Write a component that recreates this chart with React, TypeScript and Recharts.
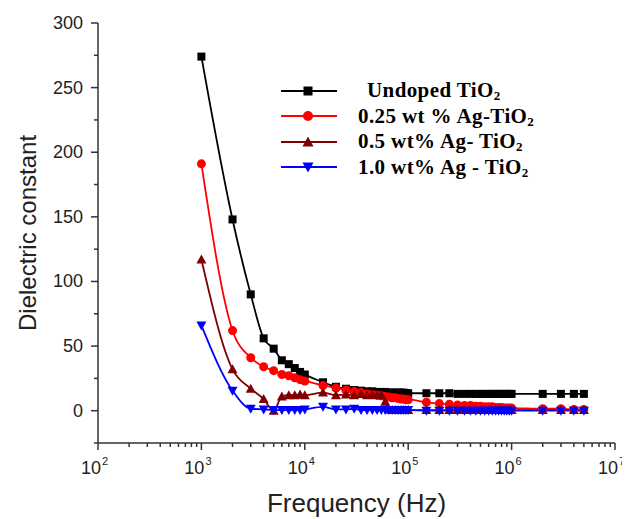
import React from 'react';
import { LineChart, Line, XAxis, YAxis } from 'recharts';

const frequencies = [
  1e3, 2e3, 3e3, 4e3, 5e3, 6e3, 7e3, 8e3, 9e3, 1e4,
  1.5e4, 2e4, 2.5e4, 3e4, 3.5e4, 4e4, 4.5e4, 5e4, 5.5e4, 6e4, 6.5e4, 7e4, 7.5e4, 8e4, 8.5e4, 9e4, 9.5e4, 1e5,
  1.5e5, 2e5, 2.5e5, 3e5, 3.5e5, 4e5, 4.5e5, 5e5, 5.5e5, 6e5, 6.5e5, 7e5, 7.5e5, 8e5, 8.5e5, 9e5, 9.5e5, 1e6,
  2e6, 3e6, 4e6, 5e6,
];

const undoped = [
  274, 148, 90, 56, 48, 39, 36, 33, 30, 28,
  22, 18.5, 17, 16, 15.5, 15, 15, 14.5, 14.5, 14.5, 14, 14, 14, 14, 14, 14, 13.5, 13.5,
  13.5, 13.5, 13.5, 13, 13, 13, 13, 13, 13, 13, 13, 13, 13, 13, 13, 13, 13, 13,
  13, 13, 13, 13,
];

const ag025 = [
  191, 62, 41, 34, 31, 28, 27, 25.5, 24, 23,
  19.5, 17.5, 16, 15, 14, 13, 12.5, 12, 11.5, 11, 10.5, 10, 10, 9.5, 9, 9, 8.5, 8.5,
  6.5, 5.5, 5, 4.5, 4, 4, 3.5, 3.5, 3, 3, 3, 2.5, 2.5, 2.5, 2, 2, 2, 2,
  1.5, 1.5, 1, 1,
];

const ag05 = [
  117, 32, 17, 9, 0, 11, 12, 12, 12.5, 12,
  14, 12, 12.5, 12, 13, 12, 12.5, 12, 12, 7, 1, 0.5, 0.5, 0.5, 0.5, 0.5, 0.5, 0.5,
  0.5, 0.5, 0.5, 0.5, 0.5, 0.5, 0.5, 0.5, 0.5, 0.5, 0.5, 0.5, 0.5, 0.5, 0.5, 0.5, 0.5, 0.5,
  0.5, 0.5, 0.5, 0.5,
];

const ag10 = [
  66, 15.5, 1.5, 1, 0.5, 0.5, 0.5, 0.5, 0.5, 1,
  3, 1, 1, 1.5, 0.5, 0.5, 0.5, 0.5, 0.5, 0.5, 0.5, 0.5, 0.5, 0.5, 0.5, 0.5, 0.5, 0.5,
  0, 0, 0, 0, 0, 0, 0, 0, 0, 0, 0, 0, 0, 0, 0, 0, 0, 0,
  0, 0, 0, 0,
];

const decades = [1e2, 1e3, 1e4, 1e5, 1e6, 1e7];
const minorSteps = [2, 3, 4, 5, 6, 7, 8, 9];
const xTicks = decades.flatMap((d, i) => (i < decades.length - 1 ? [d, ...minorSteps.map((m) => m * d)] : [d]));
const yTicks = [-25, 0, 25, 50, 75, 100, 125, 150, 175, 200, 225, 250, 275, 300];

const series = [
  { key: 'undoped', label: 'Undoped TiO', color: '#000000', shape: 'square', indent: 9 },
  { key: 'ag025', label: '0.25 wt % Ag-TiO', color: '#ff0000', shape: 'circle', indent: 0 },
  { key: 'ag05', label: '0.5 wt% Ag- TiO', color: '#800000', shape: 'up', indent: 0 },
  { key: 'ag10', label: '1.0 wt% Ag - TiO', color: '#0000ff', shape: 'down', indent: 0 },
];

const data = frequencies.map((f, i) => ({
  f,
  undoped: undoped[i],
  ag025: ag025[i],
  ag05: ag05[i],
  ag10: ag10[i],
}));

const axisColor = '#333333';
const sans = '"Liberation Sans", Arial, sans-serif';

function Marker({ cx, cy, shape, color, size = 8 }: any) {
  const h = size / 2;
  if (shape === 'square') return <rect x={cx - h} y={cy - h} width={size} height={size} fill={color} />;
  if (shape === 'circle') return <circle cx={cx} cy={cy} r={h + 0.5} fill={color} />;
  if (shape === 'up')
    return <polygon points={`${cx},${cy - h - 1} ${cx + h + 1},${cy + h} ${cx - h - 1},${cy + h}`} fill={color} />;
  return <polygon points={`${cx - h - 1},${cy - h} ${cx + h + 1},${cy - h} ${cx},${cy + h + 1}`} fill={color} />;
}

function XTick({ x, y, payload }: any) {
  const v = payload.value;
  const lg = Math.log10(v);
  const exp = Math.round(lg);
  const major = Math.abs(lg - exp) < 1e-6;
  return (
    <g>
      <line x1={x} x2={x} y1={y} y2={y + (major ? 7 : 4)} stroke={axisColor} strokeWidth={1.5} />
      {major && (
        <g fill="#222" fontFamily={sans}>
          <text x={x + 3} y={y + 31} textAnchor="end" fontSize={18}>
            10
          </text>
          <text x={x + 4} y={y + 22} textAnchor="start" fontSize={11}>
            {exp}
          </text>
        </g>
      )}
    </g>
  );
}

function YTick({ x, y, payload }: any) {
  const v = payload.value;
  const major = v % 50 === 0;
  return (
    <g>
      <line x1={x} x2={x - (major ? 7 : 4)} y1={y} y2={y} stroke={axisColor} strokeWidth={1.5} />
      {major && (
        <text x={x - 15} y={y + 6} textAnchor="end" fontSize={18} fill="#222" fontFamily={sans}>
          {v}
        </text>
      )}
    </g>
  );
}

function LegendBox() {
  return (
    <div style={{ position: 'absolute', left: 273, top: 70, fontFamily: '"Liberation Serif", "Times New Roman", serif', fontWeight: 'bold', fontSize: 21, color: '#000' }}>
      {series.map((s) => (
        <div key={s.key} style={{ display: 'flex', alignItems: 'center', height: 25.5 }}>
          <svg width={56} height={20} style={{ flex: 'none' }}>
            <line x1={0} x2={56} y1={10} y2={10} stroke={s.color} strokeWidth={2} />
            <Marker cx={27} cy={10} shape={s.shape} color={s.color} size={9} />
          </svg>
          <span style={{ marginLeft: 21 + s.indent, whiteSpace: 'nowrap', letterSpacing: 0.4 }}>
            {s.label}
            <span style={{ fontSize: 13, position: 'relative', top: 3 }}>2</span>
          </span>
        </div>
      ))}
    </div>
  );
}

export default function App() {
  return (
    <div style={{ position: 'relative', width: 622, height: 511 }}>
      <LineChart width={622} height={511} data={data} margin={{ top: 15, right: 15, left: 0, bottom: 0 }}>
        <XAxis
          dataKey="f"
          type="number"
          scale="log"
          domain={[1e2, 1e7]}
          ticks={xTicks}
          interval={0}
          height={76}
          tickSize={0}
          tickMargin={0}
          tickLine={false}
          tick={<XTick />}
          axisLine={{ stroke: axisColor, strokeWidth: 1.5 }}
          allowDataOverflow
          label={{ value: 'Frequency (Hz)', position: 'insideBottom', offset: 7, fontSize: 26, fill: '#222', fontFamily: sans }}
        />
        <XAxis
          xAxisId="top"
          dataKey="f"
          type="number"
          scale="log"
          domain={[1e2, 1e7]}
          orientation="top"
          height={0}
          tick={false}
          tickLine={false}
          axisLine={{ stroke: axisColor, strokeWidth: 1.5 }}
          allowDataOverflow
        />
        <YAxis
          domain={[-25, 300]}
          ticks={yTicks}
          interval={0}
          width={90}
          tickSize={0}
          tickMargin={0}
          tickLine={false}
          tick={<YTick />}
          axisLine={{ stroke: axisColor, strokeWidth: 1.5 }}
          allowDataOverflow
          label={{ value: 'Dielectric constant', angle: -90, position: 'insideLeft', offset: 19, fontSize: 24, fill: '#222', fontFamily: sans, style: { textAnchor: 'middle' } }}
        />
        <YAxis
          yAxisId="right"
          orientation="right"
          domain={[-25, 300]}
          width={0}
          tick={false}
          tickLine={false}
          axisLine={{ stroke: axisColor, strokeWidth: 1.5 }}
        />
        {series.map((s) => (
          <Line
            key={s.key}
            dataKey={s.key}
            type="monotone"
            stroke={s.color}
            strokeWidth={1.8}
            isAnimationActive={false}
            dot={(p: any) => <Marker key={`${s.key}-${p.index}`} cx={p.cx} cy={p.cy} shape={s.shape} color={s.color} />}
          />
        ))}
      </LineChart>
      <LegendBox />
    </div>
  );
}
